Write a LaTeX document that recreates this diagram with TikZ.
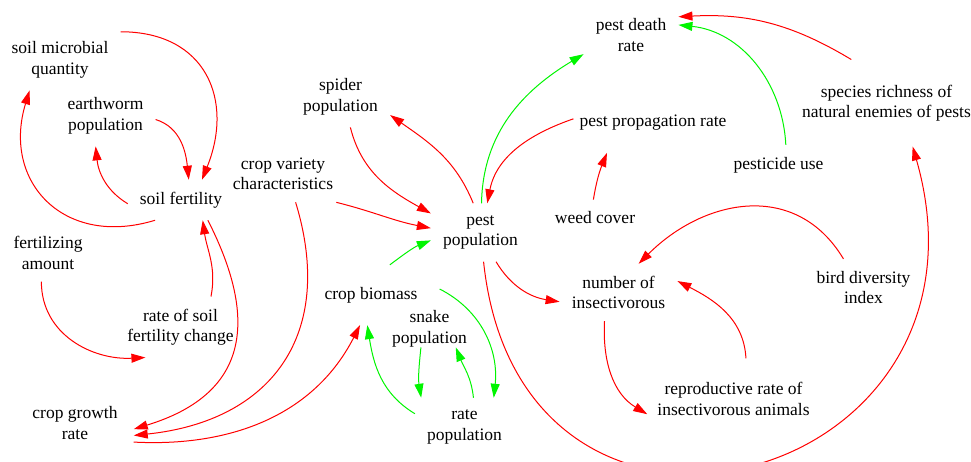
\documentclass[tikz,border=0pt]{standalone}
\usepackage{fontspec}
\setmainfont{Liberation Serif}
\usetikzlibrary{arrows.meta}
\definecolor{linkred}{RGB}{255,0,0}
\definecolor{linkgreen}{RGB}{0,245,0}

\begin{document}
\begin{tikzpicture}[x=1pt, y=1pt,
	varbox/.style={align=center, inner sep=12pt, font=\fontsize{17.5}{20.5}\selectfont},
	link/.style={-{Triangle[length=14pt, width=9pt]}, line width=1pt},
	redlink/.style={link, color=linkred},
	greenlink/.style={link, color=linkgreen}]
	\useasboundingbox (0,0) rectangle (971,461);

	\node[varbox] (smq)  at (60,401)
		{soil microbial\\quantity};
	\node[varbox] (ew)   at (105.5,345)
		{earthworm\\population};
	\node[varbox] (sf)   at (181,261)
		{soil fertility};
	\node[varbox] (fa)   at (48,208)
		{fertilizing\\amount};
	\node[varbox] (rsf)  at (180.5,134)
		{rate of soil\\fertility change};
	\node[varbox, inner xsep=16pt] (cgr)  at (75,38)
		{crop growth\\rate};
	\node[varbox] (cvc)  at (283,287)
		{crop variety\\characteristics};
	\node[varbox] (sp)   at (340.5,364)
		{spider\\population};
	\node[varbox] (pp)   at (480.5,228.5)
		{pest\\population};
	\node[varbox, inner sep=22pt] (cb)   at (371,166)
		{crop biomass};
	\node[varbox, inner sep=0pt] (snk)  at (429.5,132)
		{snake\\population};
	\node[varbox] (rp)   at (464.5,34)
		{rate\\population};
	\node[varbox] (pdr)  at (631,426)
		{pest death\\rate};
	\node[varbox, inner xsep=6pt, inner ysep=22pt] (ppr)  at (653,338)
		{pest propagation rate};
	\node[varbox] (wc)   at (595,243)
		{weed cover};
	\node[varbox] (pu)   at (778.5,296)
		{pesticide use};
	\node[varbox, inner xsep=3pt, inner ysep=25pt] (sr)   at (886.5,358)
		{species richness of\\natural enemies of pests};
	\node[varbox] (nin)  at (618.5,168.5)
		{number of\\insectivorous};
	\node[varbox] (bdi)  at (863.5,173.5)
		{bird diversity\\index};
	\node[varbox, inner xsep=10pt, inner ysep=24pt] (rr)   at (733.5,62)
		{reproductive rate of\\insectivorous animals};

	\draw[redlink] (sf.218) to[out=197, in=253, looseness=1.35] (smq.225);
	\draw[redlink] (sf.184) to[out=149, in=276] (ew.252);
	\draw[redlink] (ew.356) to[out=343, in=96] (sf.69);
	\draw[redlink] (smq.25) to[out=0, in=68, looseness=1.3] (sf.44);
	\draw[redlink] (rsf.45) to[out=79, in=278] (sf.317);
	\draw[redlink] (sf.323) to[out=297, in=17, looseness=1.35] (cgr.354);
	\draw[redlink] (fa.257) to[out=270, in=183, looseness=1.05] (rsf.221);
	\draw[redlink] (cvc.294) to[out=287, in=6, looseness=1.25] (cgr.348);
	\draw[redlink] (cgr.342) to[out=357, in=243] (cb.250);
	\draw[redlink] (cvc.332) to[out=346, in=169] (pp.175);
	\draw[redlink] (sp.288) to[out=284, in=151] (pp.159);
	\draw[redlink] (pp.104) to[out=112, in=325] (sp.340);
	\draw[redlink] (ppr.177) to[out=199, in=79] (pp.77);
	\draw[redlink] (wc.95) to[out=81, in=248] (ppr.213);
	\draw[redlink] (pp.298) to[out=301, in=171] (nin.189);
	\draw[redlink] (pp.276) to[out=276, in=286, looseness=2.05] (sr.301);
	\draw[redlink] (bdi.125) to[out=121, in=45, looseness=1.15] (nin.55);
	\draw[redlink] (rr.73) to[out=93, in=333] (nin.11);
	\draw[redlink] (nin.244) to[out=267, in=149] (rr.190);
	\draw[redlink] (sr.129) to[out=149, in=3] (pdr.21);

	\draw[greenlink] (pp.88) to[out=89, in=211] (pdr.202);
	\draw[greenlink] (pu.70) to[out=93, in=354] (pdr.12);
	\draw[greenlink] (cb.58) to[out=37, in=202] (pp.189);
	\draw[greenlink] (cb.5) to[out=333, in=84] (rp.45);
	\draw[greenlink] (snk.245) to[out=264, in=99] (rp.146);
	\draw[greenlink] (rp.73) to[out=96, in=292] (snk.325);
	\draw[greenlink] (rp.165) to[out=149, in=279] (cb.263);
\end{tikzpicture}
\end{document}
